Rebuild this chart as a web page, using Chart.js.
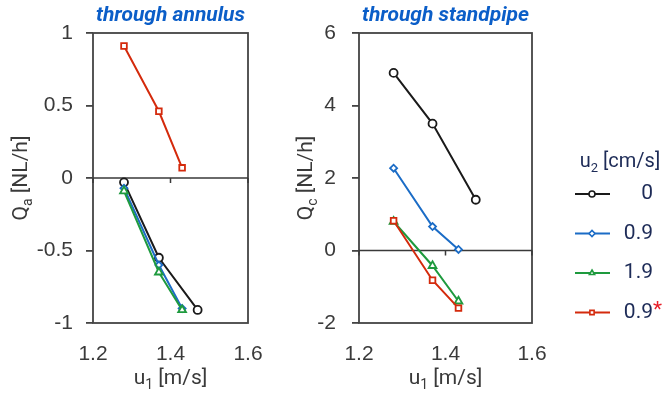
<!DOCTYPE html>
<html>
<head>
<meta charset="utf-8">
<script src="https://cdn.jsdelivr.net/npm/chart.js@4/dist/chart.umd.min.js"></script>
<style>
  body { margin: 0; background: #fff; }
  #wrap { position: relative; width: 666px; height: 395px; overflow: hidden; }
  canvas { position: absolute; top: 0; }
  #annulus { left: 0; }
  #standpipe { left: 280px; }
</style>
</head>
<body>
<div id="wrap">
  <canvas id="annulus" width="280" height="395"></canvas>
  <canvas id="standpipe" width="386" height="395"></canvas>
</div>
<script>
// data
const u1Short = [1.28, 1.37, 1.43];
const u1Long = [1.28, 1.37, 1.47];
const u2Labels = ['0', '0.9', '1.9', '0.9'];

const annulusU0 = [-0.03, -0.55, -0.91];
const annulusU09 = [-0.07, -0.60, -0.90];
const annulusU19 = [-0.09, -0.65, -0.91];
const annulusU09s = [0.91, 0.46, 0.07];

const standpipeU0 = [4.9, 3.5, 1.4];
const standpipeU09 = [2.27, 0.66, 0.03];
const standpipeU19 = [0.8, -0.42, -1.4];
const standpipeU09s = [0.82, -0.82, -1.59];

const xTicks = [1.2, 1.4, 1.6];
const annulusTicks = [-1, -0.5, 0, 0.5, 1];
const standpipeTicks = [-2, 0, 2, 4, 6];

const colors = ['#1a1a1a', '#1b6cc6', '#1e9a3e', '#d42a0c'];
const markers = ['circle', 'rectRot', 'triangle', 'rect'];
const radii = [4, 3.5, 4.5, 4];

const axisGrey = '#3a3a3a';
const navy = '#1d2b57';

function makeSets(series) {
    return series.map((vals, i) => ({
        label: u2Labels[i],
        data: vals.map((v, j) => ({ x: (i === 0 ? u1Long : u1Short)[j], y: v })),
        showLine: true,
        borderColor: colors[i],
        backgroundColor: '#fff',
        borderWidth: 2,
        pointStyle: markers[i],
        pointRadius: radii[i],
        pointBorderWidth: 1.8,
        pointBackgroundColor: '#fff',
        order: 3 - i
    }));
}

// text with subscripts: parts = [[text, isSub], ...]
function richText(ctx, parts, x, y, size, family, color) {
    const big = size + 'px ' + family;
    const small = Math.round(size * 0.65) + 'px ' + family;
    let total = 0;
    parts.forEach(p => { ctx.font = p[1] ? small : big; total += ctx.measureText(p[0]).width; });
    let cx = x - total / 2;
    ctx.fillStyle = color;
    ctx.textBaseline = 'middle';
    ctx.textAlign = 'left';
    parts.forEach(p => {
        ctx.font = p[1] ? small : big;
        ctx.fillText(p[0], cx, p[1] ? y + size * 0.32 : y);
        cx += ctx.measureText(p[0]).width;
    });
}

const decor = {
    id: 'decor',
    beforeDatasetsDraw(chart, args, opts) {
        const { ctx, chartArea: a, scales } = chart;
        ctx.save();
        ctx.strokeStyle = '#444';
        ctx.lineWidth = 1.8;
        ctx.strokeRect(a.left, a.top, a.right - a.left, a.bottom - a.top);
        // zero line with tick marks hanging below
        const y0 = scales.y.getPixelForValue(0);
        ctx.strokeStyle = axisGrey;
        ctx.lineWidth = 1.5;
        ctx.beginPath();
        ctx.moveTo(a.left, y0);
        ctx.lineTo(a.right, y0);
        xTicks.forEach(v => {
            const px = scales.x.getPixelForValue(v);
            ctx.moveTo(px, y0);
            ctx.lineTo(px, y0 + 5);
        });
        ctx.stroke();
        ctx.restore();
    },
    afterDraw(chart, args, opts) {
        const { ctx, chartArea: a } = chart;
        const cx = (a.left + a.right) / 2;
        ctx.save();
        // panel title
        ctx.font = 'italic bold 21px Roboto';
        ctx.fillStyle = '#0b5ec8';
        ctx.textAlign = 'center';
        ctx.textBaseline = 'middle';
        ctx.fillText(opts.title, cx, 16);
        // x axis title
        richText(ctx, [['u', false], ['1', true], [' [m/s]', false]], cx, 379, 21, 'Roboto', axisGrey);
        // y axis title
        ctx.save();
        ctx.translate(opts.yTitleX, (a.top + a.bottom) / 2);
        ctx.rotate(-Math.PI / 2);
        richText(ctx, [['Q', false], [opts.sub, true], [' [NL/h]', false]], 0, 0, 21, 'Roboto', axisGrey);
        ctx.restore();
        // legend
        if (opts.legend) {
            const lg = opts.legend;
            richText(ctx, [['u', false], ['2', true], [' [cm/s]', false]], lg.x + 45, lg.y - 32, 20, 'Roboto', navy);
            chart.data.datasets.forEach((ds, i) => {
                const y = lg.y + i * 39.5;
                ctx.strokeStyle = ds.borderColor;
                ctx.lineWidth = 2;
                ctx.beginPath();
                ctx.moveTo(lg.x, y);
                ctx.lineTo(lg.x + 35, y);
                ctx.stroke();
                ctx.fillStyle = '#fff';
                ctx.lineWidth = 1.6;
                Chart.helpers.drawPoint(ctx, { pointStyle: ds.pointStyle, radius: 3, borderWidth: 1.6, rotation: 0 }, lg.x + 17, y);
                ctx.font = '21px Roboto';
                ctx.fillStyle = navy;
                ctx.textAlign = 'right';
                ctx.textBaseline = 'middle';
                ctx.fillText(ds.label, lg.x + 78, y);
                if (i === 3) {
                    ctx.textAlign = 'left';
                    ctx.fillStyle = '#e8202a';
                    ctx.fillText('*', lg.x + 78, y - 2);
                }
            });
        }
        ctx.restore();
    }
};

function makeChart(id, series, yTicks, yWidth, rightPad, yPad, extra) {
    return new Chart(document.getElementById(id), {
        type: 'scatter',
        data: { datasets: makeSets(series) },
        plugins: [decor],
        options: {
            responsive: false,
            animation: false,
            layout: { padding: { top: 33, right: rightPad, left: 0, bottom: 0 } },
            plugins: { legend: { display: false }, tooltip: { enabled: false }, decor: extra },
            scales: {
                x: {
                    type: 'linear',
                    min: 1.2,
                    max: 1.6,
                    afterBuildTicks: s => { s.ticks = xTicks.map(v => ({ value: v })); },
                    afterFit: s => { s.height = 72; },
                    grid: { display: false },
                    border: { display: false },
                    ticks: { padding: 11, color: axisGrey, font: { family: 'Liberation Sans', size: 21 }, callback: v => v.toFixed(1) }
                },
                y: {
                    min: yTicks[0],
                    max: yTicks[yTicks.length - 1],
                    afterBuildTicks: s => { s.ticks = yTicks.map(v => ({ value: v })); },
                    afterFit: s => { s.width = yWidth; },
                    grid: { drawOnChartArea: false, tickLength: 7, color: '#444', lineWidth: 1.8 },
                    border: { display: false },
                    ticks: { padding: yPad, color: axisGrey, font: { family: 'Liberation Sans', size: 21 }, callback: v => String(v) }
                }
            }
        }
    });
}

makeChart('annulus', [annulusU0, annulusU09, annulusU19, annulusU09s], annulusTicks, 93, 32, 13,
    { title: 'through annulus', sub: 'a', yTitleX: 22 });
makeChart('standpipe', [standpipeU0, standpipeU09, standpipeU19, standpipeU09s], standpipeTicks, 79, 134, 16,
    { title: 'through standpipe', sub: 'c', yTitleX: 27, legend: { x: 295, y: 194 } });
</script>
</body>
</html>
